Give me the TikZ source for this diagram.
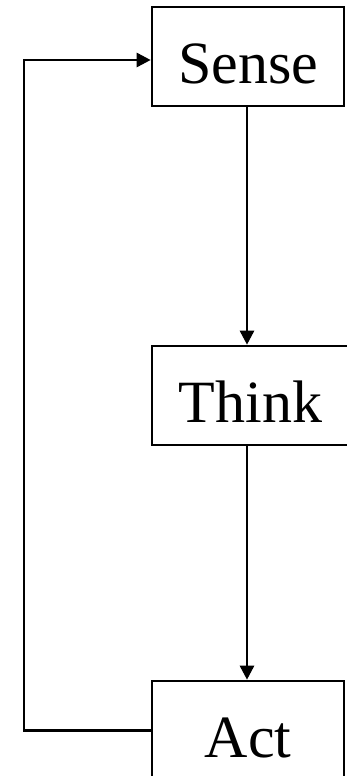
\documentclass[tikz,border=0pt]{standalone}
\usepackage{fontspec}
\setmainfont{Liberation Serif}
\usetikzlibrary{arrows.meta}
\begin{document}
\begin{tikzpicture}[x=1pt,y=-1pt,
  box/.style={draw,line width=2.6pt,inner sep=0pt,text height=54pt,text depth=0pt,font=\fontsize{60}{60}\selectfont},
  conn/.style={line width=2.6pt,-{Triangle[length=14pt,width=14pt]}}]
\useasboundingbox (0,0) rectangle (347,776);
\node[box,minimum width=192pt,minimum height=99pt] (sense) at (248,56.5) {Sense};
\node[box,minimum width=197pt,minimum height=99pt] (think) at (250.5,395.5) {Think};
\node[box,minimum width=192pt,minimum height=99pt] (act) at (248,730.5) {Act};
\coordinate (c1) at (24,730.5);
\draw[conn] (sense.south -| 247,0) -- (think.north -| 247,0);
\draw[conn] (think.south -| 247,0) -- (act.north -| 247,0);
\draw[conn] (act.west) -- (c1) |- ([yshift=-3.5pt]sense.west);
\end{tikzpicture}
\end{document}
